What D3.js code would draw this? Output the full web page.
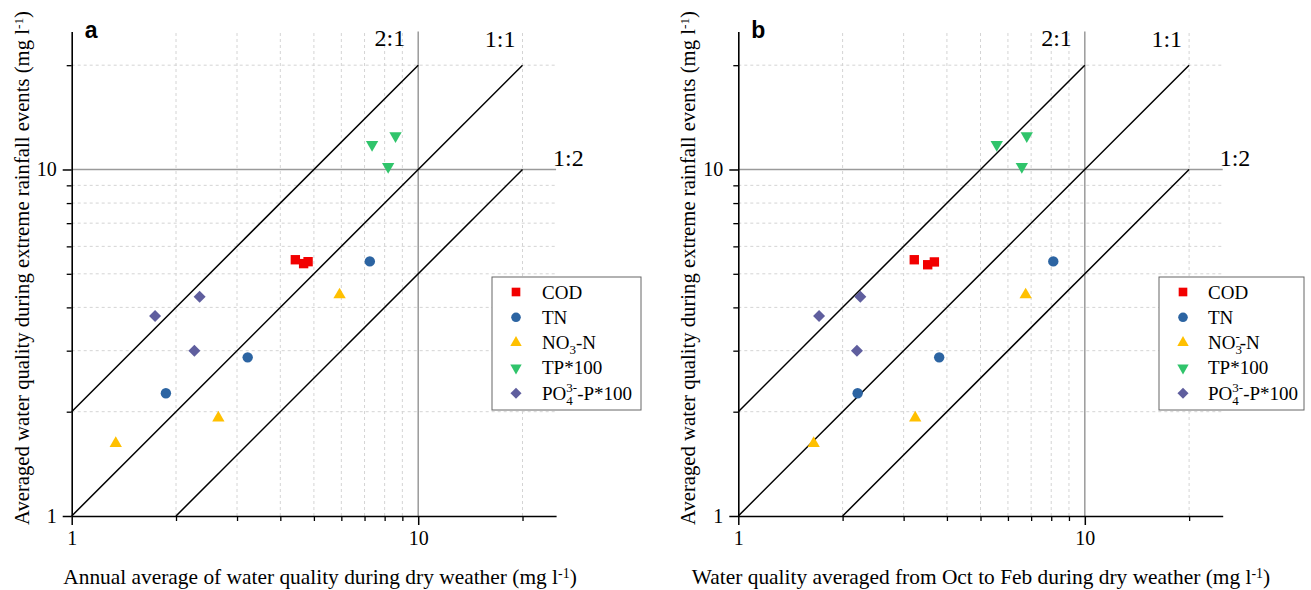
<!DOCTYPE html>
<html>
<head>
<meta charset="utf-8">
<script src="https://cdn.jsdelivr.net/npm/d3@7"></script>
<style>
  body { margin: 0; background: #fff; }
  svg { display: block; }
</style>
</head>
<body>
<svg id="chart"></svg>
<script>
const width = 1311;
const height = 590;

// axis ticks (log axes, both panels)
const majorTicks = [1, 10];
const minorTicks = [2, 3, 4, 5, 6, 7, 8, 9, 20];
const axisDomain = [1, 25];

// reference ratio lines: y = k * x
const ratioSlopes = [2, 1, 0.5];
const ratioLabels = ["2:1", "1:1", "1:2"];
const ratioLimit = 20;

// series
const seriesNames = ["COD", "TN", "NO3", "TP", "PO4"];
const seriesColors = ["#f20000", "#2c64a2", "#ffc000", "#30c46b", "#5f5e9e"];

// panel a: [dry weather annual avg, extreme rainfall avg]
const codA = [[4.42, 5.49], [4.67, 5.35], [4.81, 5.42]];
const tnA = [[7.25, 5.43], [3.22, 2.87], [1.87, 2.26]];
const no3A = [[5.93, 4.35], [2.65, 1.92], [1.34, 1.62]];
const tpA = [[7.36, 11.8], [8.6, 12.5], [8.19, 10.2]];
const po4A = [[1.74, 3.78], [2.34, 4.29], [2.26, 3.0]];

// panel b: [dry weather Oct-Feb avg, extreme rainfall avg]
const codB = [[3.22, 5.49], [3.52, 5.31], [3.68, 5.41]];
const tnB = [[8.11, 5.43], [3.8, 2.87], [2.21, 2.26]];
const no3B = [[6.75, 4.35], [3.24, 1.92], [1.65, 1.62]];
const tpB = [[5.57, 11.8], [6.8, 12.5], [6.58, 10.2]];
const po4B = [[1.71, 3.78], [2.25, 4.29], [2.2, 3.0]];

const yTitle = "Averaged water quality during extreme rainfall events";
const xTitleA = "Annual average of water quality during dry weather";
const xTitleB = "Water quality averaged from Oct to Feb during dry weather";

const svg = d3.select("#chart")
    .attr("width", width)
    .attr("height", height)
    .style("font-family", "'Liberation Serif', 'Times New Roman', serif");

svg.append("rect").attr("width", width).attr("height", height).attr("fill", "#fff");

const symbolSizes = { COD: 88, TN: 85, NO3: 66, TP: 66, PO4: 72 };
const symbolTypes = {
    COD: d3.symbolSquare, TN: d3.symbolCircle, NO3: d3.symbolTriangle,
    TP: d3.symbolTriangle, PO4: d3.symbolSquare
};
const rotFor = { COD: 0, TN: 0, NO3: 0, TP: 180, PO4: 45 };

function unitLabel(sel, fs) {
    sel.append("tspan").text(" (mg l");
    sel.append("tspan").attr("dy", "-0.45em").style("font-size", (fs * 0.65) + "px").text("-1");
    sel.append("tspan").attr("dy", (fs * 0.45 * 0.65) + "px").text(")");
}

function drawPanel(cfg) {
    const x = d3.scaleLog().domain(axisDomain).range([cfg.left, cfg.left + 484.4]);
    const y = d3.scaleLog().domain(axisDomain).range([516, 31.6]);
    const g = svg.append("g");

    // dashed minor grid
    g.selectAll("line.vgrid").data(minorTicks).enter().append("line")
        .attr("x1", d => x(d)).attr("x2", d => x(d))
        .attr("y1", y(1)).attr("y2", y(25))
        .attr("stroke", "#d4d4d4").attr("stroke-dasharray", "3,3");
    g.selectAll("line.hgrid").data(minorTicks).enter().append("line")
        .attr("y1", d => y(d)).attr("y2", d => y(d))
        .attr("x1", x(1)).attr("x2", x(25))
        .attr("stroke", "#d4d4d4").attr("stroke-dasharray", "3,3");

    // solid grey lines at 10
    g.append("line")
        .attr("x1", x(10)).attr("x2", x(10)).attr("y1", y(1)).attr("y2", y(25))
        .attr("stroke", "#9a9a9a").attr("stroke-width", 1.5);
    g.append("line")
        .attr("x1", x(1)).attr("x2", x(25)).attr("y1", y(10)).attr("y2", y(10))
        .attr("stroke", "#9a9a9a").attr("stroke-width", 1.5);

    // ratio lines
    ratioSlopes.forEach(k => {
        const x0 = Math.max(1, 1 / k);
        const x1 = Math.min(ratioLimit, ratioLimit / k);
        g.append("line")
            .attr("x1", x(x0)).attr("y1", y(k * x0))
            .attr("x2", x(x1)).attr("y2", y(k * x1))
            .attr("stroke", "#000").attr("stroke-width", 1.5);
    });

    g.append("text").attr("x", x(10) - 13).attr("y", 46)
        .attr("text-anchor", "end").style("font-size", "24px").text(ratioLabels[0]);
    g.append("text").attr("x", x(20) - 7).attr("y", 47)
        .attr("text-anchor", "end").style("font-size", "24px").text(ratioLabels[1]);
    g.append("text").attr("x", x(25) - 3).attr("y", 166)
        .attr("text-anchor", "start").style("font-size", "24px").text(ratioLabels[2]);

    // axes
    const fmt = d => String(d);
    g.append("g").attr("transform", `translate(0,516)`)
        .call(d3.axisBottom(x).tickValues(minorTicks).tickSize(5).tickFormat(""))
        .call(a => a.select(".domain").remove())
        .call(a => a.selectAll("line").attr("stroke-width", 1.3));
    g.append("g").attr("transform", `translate(${cfg.left},0)`)
        .call(d3.axisLeft(y).tickValues(minorTicks).tickSize(5).tickFormat(""))
        .call(a => a.select(".domain").remove())
        .call(a => a.selectAll("line").attr("stroke-width", 1.3));

    const xa = g.append("g").attr("transform", `translate(0,516)`)
        .call(d3.axisBottom(x).tickValues(majorTicks).tickSize(9).tickPadding(6).tickFormat(fmt).tickSizeOuter(0));
    const ya = g.append("g").attr("transform", `translate(${cfg.left},0)`)
        .call(d3.axisLeft(y).tickValues(majorTicks).tickSize(9).tickPadding(6).tickFormat(fmt).tickSizeOuter(0));
    [xa, ya].forEach(a => {
        a.select(".domain").attr("stroke-width", 1.6);
        a.selectAll("line").attr("stroke-width", 1.5);
        a.selectAll("text")
            .style("font-family", "'Liberation Serif', serif")
            .style("font-size", "20px")
            .attr("fill", "#000");
    });

    // axis titles
    const yt = g.append("text")
        .attr("transform", `translate(${cfg.left - 43},268) rotate(-90)`)
        .attr("text-anchor", "middle")
        .style("font-size", "20.7px");
    yt.append("tspan").text(yTitle);
    unitLabel(yt, 20.7);

    const xt = g.append("text")
        .attr("x", cfg.xTitleX).attr("y", 584)
        .attr("text-anchor", "middle")
        .style("font-size", "21.4px");
    xt.append("tspan").text(cfg.xTitle);
    unitLabel(xt, 21.4);

    // panel letter
    g.append("text").attr("x", cfg.left + 13).attr("y", 38)
        .style("font-family", "'Liberation Sans', Arial, sans-serif")
        .style("font-weight", "bold").style("font-size", "23px")
        .text(cfg.letter);

    // points
    cfg.series.forEach((pts, i) => {
        const name = seriesNames[i];
        const sym = d3.symbol().type(symbolTypes[name]).size(symbolSizes[name]);
        g.selectAll(null).data(pts).enter().append("path")
            .attr("d", sym())
            .attr("transform", d => `translate(${x(d[0])},${y(d[1])}) rotate(${rotFor[name]})`)
            .attr("fill", seriesColors[i]);
    });

    // legend
    const lg = g.append("g").attr("transform", `translate(${cfg.legend[0]},${cfg.legend[1]})`);
    lg.append("rect").attr("width", cfg.legend[2]).attr("height", 133)
        .attr("fill", "#fff").attr("stroke", "#666").attr("stroke-width", 1);
    seriesNames.forEach((name, i) => {
        const cy = 15 + i * 25.3;
        const sym = d3.symbol().type(symbolTypes[name]).size(symbolSizes[name] * 0.85);
        lg.append("path")
            .attr("d", sym())
            .attr("transform", `translate(24,${cy}) rotate(${rotFor[name]})`)
            .attr("fill", seriesColors[i]);
        const t = lg.append("text").attr("x", cfg.legendTextX).attr("y", cy + 6.5)
            .style("font-size", "19px");
        cfg.legendLabel(t, name);
    });
}

function labelA(t, name) {
    if (name === "NO3") {
        t.append("tspan").text("NO");
        t.append("tspan").attr("dy", 5).style("font-size", "13px").text("3");
        t.append("tspan").attr("dy", -5).text("-N");
    } else if (name === "TP") {
        t.text("TP*100");
    } else if (name === "PO4") {
        t.append("tspan").text("PO");
        t.append("tspan").attr("dy", 5).style("font-size", "13px").text("4");
        t.append("tspan").attr("dy", -13).attr("dx", -6.5).style("font-size", "13px").text("3-");
        t.append("tspan").attr("dy", 8).text("-P*100");
    } else {
        t.text(name);
    }
}

function labelB(t, name) {
    if (name === "NO3") {
        t.append("tspan").text("NO");
        t.append("tspan").attr("dy", 5).style("font-size", "13px").text("3");
        t.append("tspan").attr("dy", -13).attr("dx", -6.5).style("font-size", "13px").text("-");
        t.append("tspan").attr("dy", 8).text("-N");
    } else {
        labelA(t, name);
    }
}

drawPanel({
    left: 71.7, letter: "a", xTitle: xTitleA, xTitleX: 320,
    series: [codA, tnA, no3A, tpA, po4A],
    legend: [492, 277, 149], legendTextX: 50, legendLabel: labelA
});
drawPanel({
    left: 738.3, letter: "b", xTitle: xTitleB, xTitleX: 981,
    series: [codB, tnB, no3B, tpB, po4B],
    legend: [1159, 277, 145], legendTextX: 49, legendLabel: labelB
});
</script>
</body>
</html>
